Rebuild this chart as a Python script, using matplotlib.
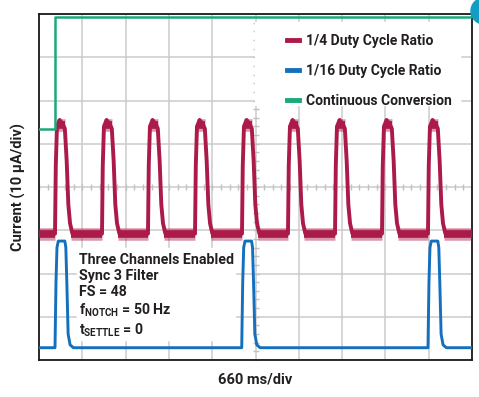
import numpy as np
import matplotlib
matplotlib.use("Agg")
import matplotlib.pyplot as plt
from matplotlib.lines import Line2D
from matplotlib.patches import Rectangle, Ellipse

FONTS = ['Roboto', 'DejaVu Sans']
plt.rcParams['font.family'] = FONTS
plt.rcParams['mathtext.fontset'] = 'custom'
plt.rcParams['mathtext.rm'] = 'Roboto:bold'
plt.rcParams['mathtext.bf'] = 'Roboto:bold'

# scope settings: 660 ms/div, 10 uA/div, 10 x 8 divisions
ms_div = 660
ua_div = 10

# 1/4 duty cycle: rising edges (ms) and one pulse shape
red_rise = [244, 960, 1661, 2378, 3094, 3795, 4512, 5228, 5929]
red_shape_t = [0, 12, 30, 70, 120, 150, 178, 203, 229, 265]
red_shape_y = [29.2, 45, 54, 55.5, 54.5, 53.5, 46, 36, 31.6, 29.2]
red_low = 29.2
red_high = 54.4

# 1/16 duty cycle
blue_rise = [244, 3090, 5929]
blue_shape_t = [0, 15, 30, 50, 150, 165, 180, 200, 230, 280]
blue_shape_y = [2.84, 18, 26, 27.5, 27.5, 26, 18, 6, 3.5, 2.84]
blue_low = 2.84

# continuous conversion
green_t = [0, 240, 240, 6600]
green_y = [53.3, 53.3, 79.2, 79.2]

RED = '#ab1a48'
BLUE = '#1470bf'
GREEN = '#19a97a'
TXT = '#231f20'


def build_trace(rises, shape_t, shape_y, base, t_end=6600):
    t, y = [0], [base]
    for r in rises:
        t += [r + s for s in shape_t]
        y += list(shape_y)
    t.append(t_end)
    y.append(base)
    return np.array(t), np.array(y)


fig = plt.figure(figsize=(4.79, 3.97), dpi=100)
ax = fig.add_axes([39 / 479, 37 / 397, 433 / 479, 346 / 397])
ax.set_xlim(0, 10 * ms_div)
ax.set_ylim(0, 8 * ua_div)

ax.set_xticks(np.arange(0, 10 * ms_div + 1, ms_div))
ax.set_yticks(np.arange(0, 8 * ua_div + 1, ua_div))
ax.grid(True, color='#cbcbcb', lw=1.1)
ax.tick_params(length=0, labelbottom=False, labelleft=False)
ax.set_axisbelow(True)
for s in ax.spines.values():
    s.set_color('#1a1a1a')
    s.set_linewidth(1.3)

# small ticks on the centre lines
ax.plot(np.arange(0, 10 * ms_div, ms_div / 5), np.full(50, 4 * ua_div), ls='none',
        marker='|', ms=4, color='#c0c0c0', zorder=1)
ax.plot(np.full(40, 5 * ms_div), np.arange(0, 8 * ua_div, ua_div / 5), ls='none',
        marker='_', ms=4, color='#c0c0c0', zorder=1)

# white areas behind legend and notes
ax.add_patch(Rectangle((0.499, 0.737), 0.473, 0.24, transform=ax.transAxes,
                       color='white', zorder=1.5))
ax.add_patch(Rectangle((0.088, 0.058), 0.365, 0.266, transform=ax.transAxes,
                       color='white', zorder=1.5))

# traces
rt, ry = build_trace(red_rise, red_shape_t, red_shape_y, red_low)
ax.plot(rt, ry, color=RED, lw=2.8, zorder=3)
# noise band on flat parts
low_starts = [0] + [r + 250 for r in red_rise]
low_ends = [r - 3 for r in red_rise] + [6600]
for a, b in zip(low_starts, low_ends):
    ax.plot([a, b], [red_low, red_low], color=RED, lw=9, alpha=0.45,
            solid_capstyle='butt', zorder=3)
    ax.plot([a, b], [red_low, red_low], color=RED, lw=5.5, solid_capstyle='butt', zorder=3)
for r in red_rise:
    ax.plot([r + 25, r + 155], [red_high, red_high], color=RED, lw=9, alpha=0.45,
            solid_capstyle='butt', zorder=3)
    ax.plot([r + 25, r + 155], [red_high, red_high], color=RED, lw=5.5,
            solid_capstyle='butt', zorder=3)

bt, by = build_trace(blue_rise, blue_shape_t, blue_shape_y, blue_low)
ax.plot(bt, by, color=BLUE, lw=2.1, zorder=3)

ax.plot(green_t, green_y, color=GREEN, lw=1.8, zorder=3)

# legend
handles = [Line2D([], [], color=c, lw=3.5) for c in (RED, BLUE, GREEN)]
labels = ['1/4 Duty Cycle Ratio', '1/16 Duty Cycle Ratio', 'Continuous Conversion']
leg = ax.legend(handles, labels, loc='upper left', bbox_to_anchor=(0.572, 0.943),
                frameon=False, handlelength=0.9, handletextpad=0.5, labelspacing=1.15,
                borderpad=0, borderaxespad=0,
                prop={'family': FONTS, 'weight': 'bold', 'size': 10})
for t in leg.get_texts():
    t.set_color(TXT)
leg.set_zorder(5)

notes = ['Three Channels Enabled', 'Sync 3 Filter', 'FS = 48',
         r'f$_{\mathrm{NOTCH}}$ = 50 Hz', r't$_{\mathrm{SETTLE}}$ = 0']
note_y = [22.2, 18.5, 14.7, 10.4, 5.9]
for s, yv in zip(notes, note_y):
    ax.text(610, yv, s, fontsize=10.2, fontweight='bold', color=TXT, va='baseline',
            ha='left', zorder=5)

ax.set_xlabel('660 ms/div', fontsize=10.5, fontweight='bold', color=TXT, labelpad=9)
ax.set_ylabel('Current (10 µA/div)', fontsize=10.5, fontweight='bold', color=TXT, labelpad=9)

fig.patches.append(Ellipse((484 / 479, 1 - 11 / 397), 26 / 479, 26 / 397,
                           transform=fig.transFigure, color='#129dc5', clip_on=False))

fig.savefig('out.png', dpi=100)
